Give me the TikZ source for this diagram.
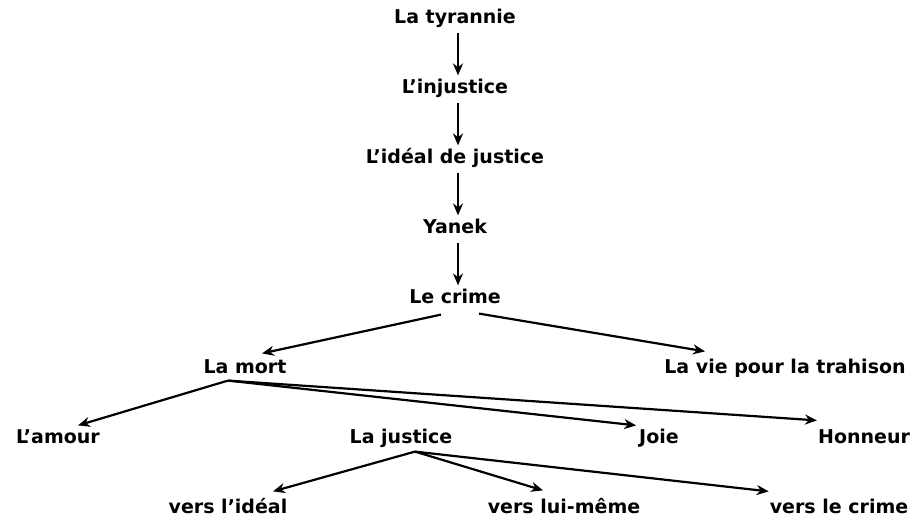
\documentclass[tikz,border=0pt]{standalone}
\usepackage{fontspec}
\setmainfont{DejaVu Sans}
\usetikzlibrary{positioning, arrows.meta}

\begin{document}
\begin{tikzpicture}[x=0.5pt,y=-0.5pt,line width=1.1pt,>={Stealth[length=6pt,width=5pt]},
    lbl/.style={inner sep=0pt,text height=7.5pt,text depth=2pt,font=\bfseries\fontsize{9.5}{11}\selectfont},
    down/.style={->,shorten <=2pt,shorten >=1pt}]

    \useasboundingbox (0,0) rectangle (910,519);

    % the chain
    \node[lbl] (tyr) at (455,18) {La tyrannie};
    \node[lbl] (inj) at (455,88) {L'injustice};
    \node[lbl] (ideal) at (455,158) {L'idéal de justice};
    \node[lbl] (yanek) at (455,228) {Yanek};
    \node[lbl] (crime) at (455,298) {Le crime};

    \draw[down] ([xshift=1.5pt]tyr.south) to ([xshift=1.5pt]inj.north);
    \draw[down] ([xshift=1.5pt]inj.south) to ([xshift=1.5pt]ideal.north);
    \draw[down] ([xshift=1.5pt]ideal.south) to ([xshift=1.5pt]yanek.north);
    \draw[down] ([xshift=1.5pt]yanek.south) to ([xshift=1.5pt]crime.north);

    % second row
    \node[lbl] (mort) at (245,368) {La mort};
    \node[lbl] (vie) at (785,368) {La vie pour la trahison};

    \draw[->] ([shift={(-7pt,-3pt)}]crime.south) to ([shift={(8.5pt,2pt)}]mort.north);
    \draw[->] ([shift={(12pt,-2.5pt)}]crime.south) to ([shift={(-40pt,3pt)}]vie.north);

    % third row
    \node[lbl] (amour) at (58,438) {L'amour};
    \node[lbl] (justice) at (401,438) {La justice};
    \node[lbl] (joie) at (659,438) {Joie};
    \node[lbl] (honneur) at (864,438) {Honneur};

    \coordinate (mortfoot) at ([shift={(-8.5pt,-1pt)}]mort.south);
    \draw[->] (mortfoot) to ([shift={(10pt,1pt)}]amour.north);
    \draw[->] (mortfoot) to ([shift={(-1pt,1pt)}]joie.north west);
    \draw[->] (mortfoot) to ([shift={(0pt,3.5pt)}]honneur.north west);

    % last row
    \node[lbl] (vide) at (228,508) {vers l'idéal};
    \node[lbl] (vlui) at (564,508) {vers lui-même};
    \node[lbl] (vcrime) at (839,508) {vers le crime};

    \coordinate (justfoot) at ([shift={(7pt,-1.5pt)}]justice.south);
    \draw[->] (justfoot) to ([shift={(22.5pt,3pt)}]vide.north);
    \draw[->] (justfoot) to ([shift={(-10.5pt,3.5pt)}]vlui.north);
    \draw[->] (justfoot) to ([shift={(0pt,3pt)}]vcrime.north west);

\end{tikzpicture}
\end{document}
